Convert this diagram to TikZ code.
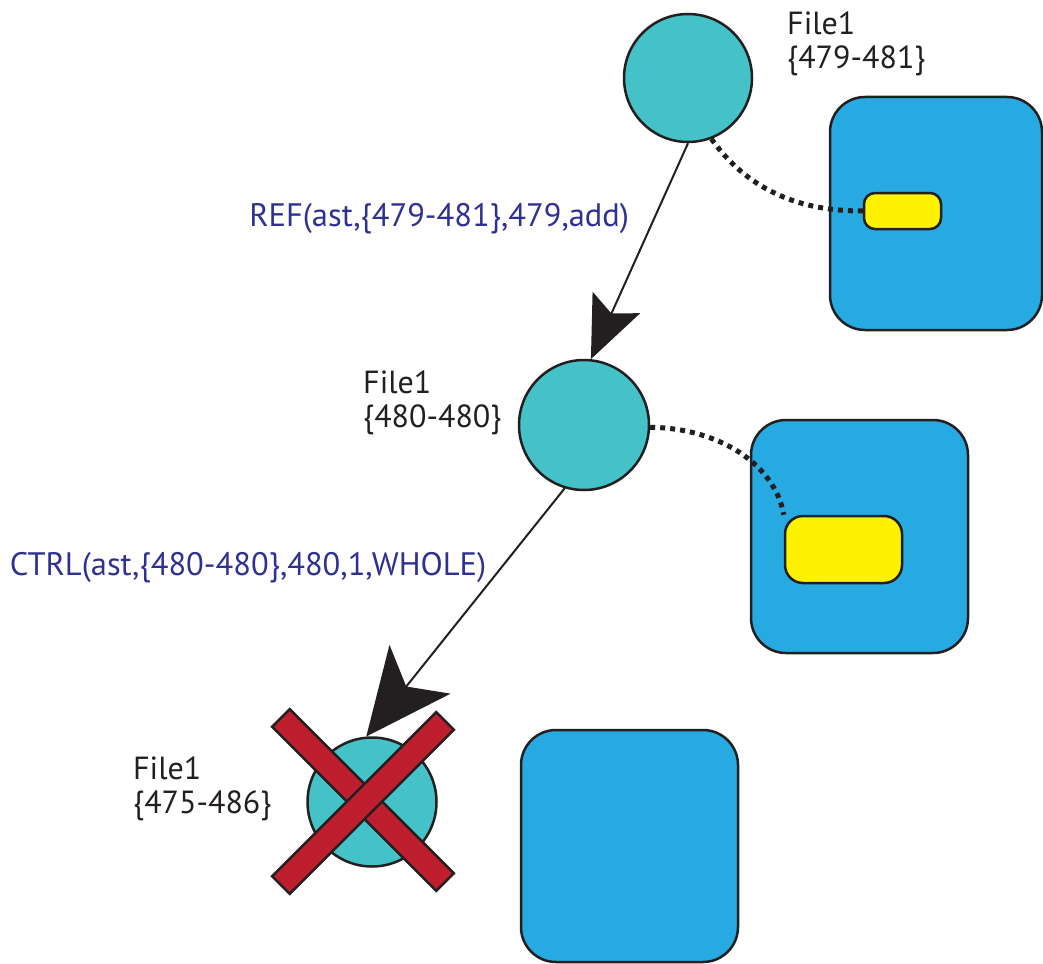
\documentclass[tikz,border=0pt]{standalone}
\usepackage{fontspec}
\setmainfont{PT Sans}
\usetikzlibrary{arrows.meta}
\definecolor{tealc}{HTML}{45C1C8}
\definecolor{boxblue}{HTML}{27AAE1}
\definecolor{yel}{HTML}{FFF200}
\definecolor{crossred}{HTML}{BE1E2D}
\definecolor{labblue}{HTML}{2E3192}
\definecolor{ink}{HTML}{231F20}

\begin{document}
\begin{tikzpicture}[x=1pt,y=-1pt,
  fileref/.style={circle,draw=ink,line width=2.5pt,fill=tealc,minimum size=128pt,inner sep=0pt},
  memblock/.style={rectangle,draw=ink,line width=2.5pt,fill=boxblue,rounded corners=35pt,minimum width=217pt,minimum height=233pt},
  chunk/.style={rectangle,draw=ink,line width=2.5pt,fill=yel,inner sep=0pt},
  filetxt/.style={anchor=north west,align=left,inner sep=0pt,text=ink,font=\fontsize{32}{34}\selectfont},
  oplabel/.style={inner sep=0pt,text=labblue,font=\fontsize{32.5}{34}\selectfont},
  binding/.style={ink,line width=5pt,dash pattern=on 5pt off 5pt},
  xbar/.style={rectangle,draw=ink,line width=2.5pt,fill=crossred,minimum width=232pt,minimum height=25pt,inner sep=0pt}]
\useasboundingbox (0,0) rectangle (1043,963);

\node[memblock,minimum width=212pt] (m1) at (936,213.5) {};
\node[memblock] (m2) at (859.5,536.5) {};
\node[memblock,minimum height=232pt] (m3) at (629.5,846) {};
\node[chunk,minimum width=77pt,minimum height=36pt,rounded corners=11pt] (c1) at (902.5,211) {};
\node[chunk,minimum width=117pt,minimum height=67pt,rounded corners=18pt] (c2) at (843.5,549.5) {};

\node[fileref] (A) at (688,78) {};
\node[fileref,minimum size=130pt] (B) at (584,425) {};
\node[fileref,minimum size=129pt] (C) at (372,802) {};

\node[filetxt] (tA) at (787,12) {File1\\\{479-481\}};
\node[filetxt] (tB) at (363,371) {File1\\\{480-480\}};
\node[filetxt] (tC) at (133,757) {File1\\\{475-486\}};

\draw[binding] (A.-69) .. controls (755,200) and (815,211) .. (c1.west);
\draw[binding] (B.-2) .. controls (720,428) and (775,465) .. (c2.north west);

\draw[ink,line width=2pt,-{Stealth[length=62pt,width=52pt,inset=12pt]}] (A.270) -- (B.84)
  node[oplabel,pos=0.35,left=24pt] (l1) {REF(ast,\{479-481\},479,add)};
\draw[ink,line width=2pt,-{Stealth[length=86pt,width=78pt,inset=22pt]}] (B.-107) -- (C.95)
  node[oplabel,pos=0.32,left=14pt] (l2) {CTRL(ast,\{480-480\},480,1,WHOLE)};

\node[xbar,rotate=-45] (x1) at (363,800) {};
\node[xbar,rotate=45] (x2) at (363,803) {};

\end{tikzpicture}
\end{document}
